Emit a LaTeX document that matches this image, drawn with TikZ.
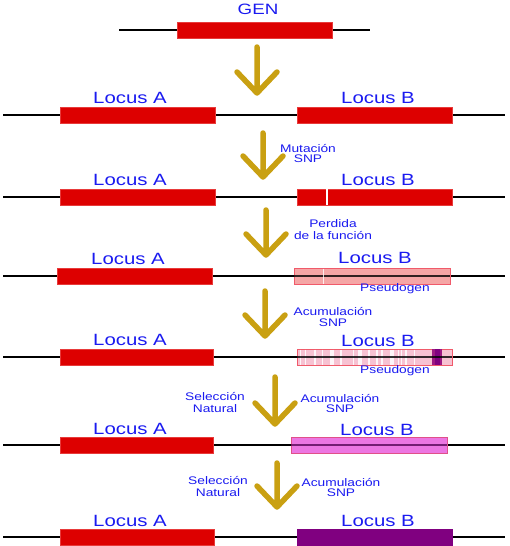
\documentclass[tikz,border=0pt]{standalone}
\usepackage{fontspec}
\newfontfamily\labfont[FakeStretch=1.25]{Liberation Sans}
\definecolor{lblue}{HTML}{1A1AF0}
\definecolor{gred}{HTML}{DD0000}
\definecolor{gredb}{HTML}{E83A3A}
\definecolor{pale}{HTML}{F5A6A6}
\definecolor{paleb}{HTML}{F05A6A}
\definecolor{pink}{HTML}{F7C2D2}
\definecolor{magen}{HTML}{EC76E2}
\definecolor{magenb}{HTML}{E0508A}
\definecolor{purp}{HTML}{800080}
\definecolor{gold}{HTML}{C9A012}
\tikzset{
  dna/.style={line width=2.6pt, black, line cap=butt},
  dnathru/.style={line width=2.6pt, black, opacity=0.8},
  redbox/.style={fill=gred, draw=gredb, line width=0.6pt},
  locus/.style={text=lblue, font=\labfont\fontsize{16.3}{18}\selectfont, inner sep=0pt},
  gen/.style={text=lblue, font=\labfont\fontsize{15}{17}\selectfont, inner sep=0pt},
  small/.style={text=lblue, font=\labfont\fontsize{11}{11}\selectfont, inner sep=0pt, align=center},
  goldarrow/.style={draw=gold, line width=5.5pt, line cap=round, line join=round}
}
\begin{document}
\begin{tikzpicture}[x=1pt,y=-1pt]
\useasboundingbox (0,0) rectangle (510,546);
% ---------- row 0 : GEN
\draw[dna] (119,30) -- (370,30);
\node[redbox, minimum width=155pt, minimum height=16pt, inner sep=0pt] (gen0) at (254.5,30) {};
\node[gen] (genlab) at (258,9) {GEN};
% ---------- arrows
\foreach \n/\x/\t/\b in {a1/257/47/93, a2/263/133/177, a3/266/210/255, a4/265/291/336, a5/275/377/424, a6/277/463/507}{
  \coordinate (\n top) at (\x,\t);
  \coordinate (\n tip) at (\x,\b);
  \draw[goldarrow] (\n top) -- (\n tip)
    ([xshift=-20pt,yshift=21pt]\n tip) -- (\n tip) -- ([xshift=20pt,yshift=21pt]\n tip);
}
% ---------- row 1
\draw[dna] (3,115) -- (505,115);
\node[redbox, minimum width=155pt, minimum height=16pt, inner sep=0pt] (a1box) at (137.5,115) {};
\node[redbox, minimum width=155pt, minimum height=16pt, inner sep=0pt] (b1box) at (374.5,115) {};
\node[locus] at (130,98) {Locus A};
\node[locus] at (378,98) {Locus B};
\node[small] (l2) at (308,153.5) {Mutación\\[-0.8pt]SNP};
% ---------- row 2
\draw[dna] (3,197) -- (505,197);
\node[redbox, minimum width=155pt, minimum height=16pt, inner sep=0pt] (a2box) at (137.5,197) {};
\node[redbox, minimum width=155pt, minimum height=16pt, inner sep=0pt] (b2box) at (374.5,197) {};
\draw[white, line width=1.2pt] (327,189.3) -- (327,204.7);
\node[locus] at (130,180) {Locus A};
\node[locus] at (378,180) {Locus B};
\node[small] (l3) at (333,229.5) {Perdida\\[0.6pt]de la función};
% ---------- row 3
\draw[dna] (3,276) -- (505,276);
\node[redbox, minimum width=155pt, minimum height=16pt, inner sep=0pt] (a3box) at (134.5,276) {};
\node[fill=pale, draw=paleb, line width=0.6pt, minimum width=156pt, minimum height=16pt, inner sep=0pt] (b3box) at (372,276) {};
\draw[dnathru] (b3box.west) -- (b3box.east);
\draw[white, line width=1pt, opacity=0.8] (323,268.5) -- (323,283.5);
\node[locus] at (128,259) {Locus A};
\node[locus] at (375,258) {Locus B};
\node[small] at (395,289) {Pseudogen};
\node[small] (l4) at (333,317) {Acumulación\\[0pt]SNP};
% ---------- row 4
\draw[dna] (3,357) -- (505,357);
\node[redbox, minimum width=153pt, minimum height=16pt, inner sep=0pt] (a4box) at (136.5,357) {};
\node[fill=pink, draw=paleb, line width=0.6pt, minimum width=155pt, minimum height=16pt, inner sep=0pt] (b4box) at (374.5,357) {};
\foreach \sx/\sw in {300/1, 305/0.8, 315/2.5, 322/1, 332/3.5, 341/2, 353/0.8, 360/4, 369/2.5, 377/1.2, 382/2.5, 392/3.5, 398/0.8, 401/1, 406/1.2, 414/0.8}{
  \draw[white, line width=\sw pt, opacity=0.85] (\sx,349.5) -- (\sx,364.5);
}
\fill[purp!70!magenb] (432,349.3) rectangle (442,364.7);
\fill[purp] (435,349.3) rectangle (440,364.7);
\draw[dnathru] (b4box.west) -- (b4box.east);
\node[locus] at (130,340) {Locus A};
\node[locus] at (378,341) {Locus B};
\node[small] at (395,371) {Pseudogen};
\node[small] (l5a) at (215,402.3) {Selección\\[1.3pt]Natural};
\node[small] (l5b) at (340,403.3) {Acumulación\\[-0.8pt]SNP};
% ---------- row 5
\draw[dna] (3,445) -- (505,445);
\node[redbox, minimum width=153pt, minimum height=16pt, inner sep=0pt] (a5box) at (136.5,445) {};
\node[fill=magen, draw=magenb, line width=0.6pt, minimum width=156pt, minimum height=16pt, inner sep=0pt] (b5box) at (369,445) {};
\draw[line width=2.6pt, purp!60!black, opacity=0.75] (b5box.west) -- (b5box.east);
\node[locus] at (130,429) {Locus A};
\node[locus] at (377,430) {Locus B};
\node[small] (l6a) at (218,486.7) {Selección\\[1.3pt]Natural};
\node[small] (l6b) at (341,487.5) {Acumulación\\[-0.8pt]SNP};
% ---------- row 6
\draw[dna] (3,537) -- (505,537);
\node[redbox, minimum width=154pt, minimum height=16pt, inner sep=0pt] (a6box) at (137,537) {};
\node[fill=purp, draw=purp, line width=0.6pt, minimum width=155pt, minimum height=16pt, inner sep=0pt] (b6box) at (374.5,537) {};
\node[locus] at (130,521) {Locus A};
\node[locus] at (378,521) {Locus B};
\end{tikzpicture}
\end{document}
